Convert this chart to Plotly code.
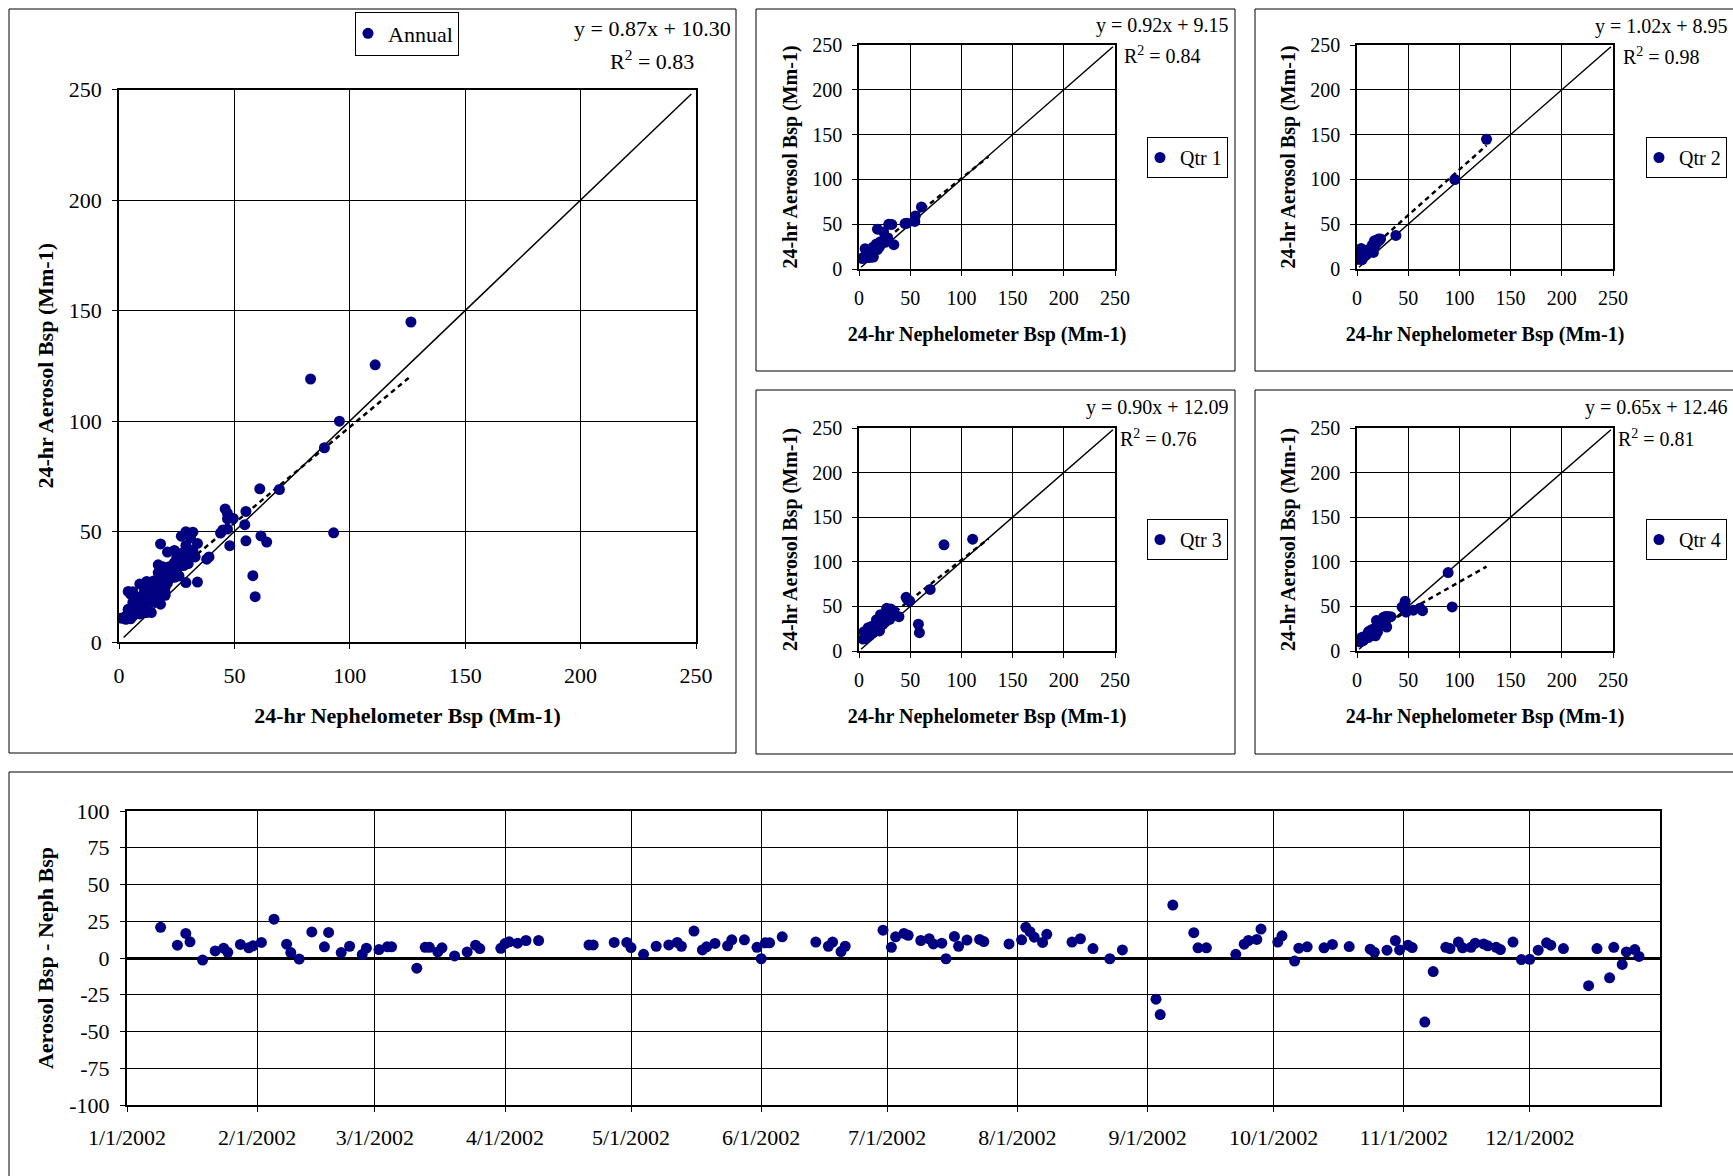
import pandas as pd
import plotly.graph_objects as go

W, H = 1733, 1176
FONT = "Liberation Serif, Times New Roman, serif"
NAVY = "#000080"

# ---------------- data ----------------
DATES = [
    "2002-01-09", "2002-01-13", "2002-01-15", "2002-01-16", "2002-01-19", "2002-01-22", "2002-01-24",
    "2002-01-25", "2002-01-28", "2002-01-30", "2002-01-31", "2002-02-02", "2002-02-05", "2002-02-08",
    "2002-02-09", "2002-02-11", "2002-02-14", "2002-02-17", "2002-02-18", "2002-02-21", "2002-02-23",
    "2002-02-26", "2002-02-27", "2002-03-02", "2002-03-04", "2002-03-05", "2002-03-11", "2002-03-13",
    "2002-03-14", "2002-03-16", "2002-03-17", "2002-03-20", "2002-03-23", "2002-03-25", "2002-03-26",
    "2002-03-31",
    "2002-04-01", "2002-04-02", "2002-04-04", "2002-04-06", "2002-04-09", "2002-04-21", "2002-04-22",
    "2002-04-27", "2002-04-30", "2002-05-01", "2002-05-04", "2002-05-07", "2002-05-10", "2002-05-12",
    "2002-05-13", "2002-05-16", "2002-05-18", "2002-05-19", "2002-05-21", "2002-05-24", "2002-05-25",
    "2002-05-28", "2002-05-31", "2002-06-01", "2002-06-02", "2002-06-03", "2002-06-06", "2002-06-14",
    "2002-06-17", "2002-06-18", "2002-06-20", "2002-06-21", "2002-06-30",
    "2002-07-02", "2002-07-03", "2002-07-05", "2002-07-06", "2002-07-09", "2002-07-11", "2002-07-12",
    "2002-07-14", "2002-07-15", "2002-07-17", "2002-07-18", "2002-07-20", "2002-07-23", "2002-07-24",
    "2002-07-30", "2002-08-02", "2002-08-03", "2002-08-04", "2002-08-05", "2002-08-07", "2002-08-08",
    "2002-08-14", "2002-08-16", "2002-08-19", "2002-08-23", "2002-08-26", "2002-09-03", "2002-09-04",
    "2002-09-07", "2002-09-12", "2002-09-13", "2002-09-15", "2002-09-22", "2002-09-24", "2002-09-25",
    "2002-09-27", "2002-09-28",
    "2002-10-02", "2002-10-03", "2002-10-06", "2002-10-07", "2002-10-09", "2002-10-13", "2002-10-15",
    "2002-10-19", "2002-10-24", "2002-10-25", "2002-10-28", "2002-10-30", "2002-10-31", "2002-11-02",
    "2002-11-03", "2002-11-06", "2002-11-08", "2002-11-11", "2002-11-12", "2002-11-14", "2002-11-15",
    "2002-11-17", "2002-11-18", "2002-11-20", "2002-11-21", "2002-11-23", "2002-11-24", "2002-11-27",
    "2002-11-29", "2002-12-01", "2002-12-03", "2002-12-05", "2002-12-06", "2002-12-09", "2002-12-15",
    "2002-12-17", "2002-12-20", "2002-12-21", "2002-12-23", "2002-12-24", "2002-12-26", "2002-12-27",
]

NEPH_BSP = [
    29, 3, 6, 17, 54.5, 20, 22, 26, 10, 8, 61, 14, 18, 21, 9, 14, 32, 16, 24, 18, 7, 11, 13,
    45, 23, 5, 34, 19, 25, 55, 10, 12, 47, 4, 15, 28,
    1, 8, 12, 6, 15, 10, 13, 4, 20, 9, 16, 14, 7, 23, 11, 126.5, 5, 17, 19, 3, 18, 21, 12,
    38, 16, 22, 17, 8, 13, 10, 95.5, 6, 4,
    10, 111, 5, 12, 24, 18, 8, 26, 39, 29, 6, 22, 15, 47, 32, 13, 27, 17, 46, 34, 31, 19, 25,
    49.5, 69.5, 30, 58, 59, 83, 9, 14, 23, 20, 4, 11, 28, 21,
    23, 19, 29, 8, 12, 5, 15, 20, 10, 14, 44, 26, 33, 47, 17, 93, 55, 3, 7, 28, 13, 22, 11, 6,
    16, 9, 21, 4, 89, 18, 24, 12, 30, 19, 64, 8, 61.5, 14, 48, 11, 6, 20,
]

AEROSOL_BSP = [
    49.9, 11.7, 22.7, 28.0, 53.1, 24.8, 28.7, 29.9, 19.2, 14.9, 69.3, 24.6, 44.4, 30.4, 12.7, 13.3,
    49.7, 23.6, 41.4, 21.7, 15.0, 13.3, 19.7, 50.7, 30.6, 12.6, 27.1, 26.3, 32.3, 59.1, 16.9, 13.4,
    51.1, 12.7, 21.4, 34.6,
    10.8, 19.0, 22.1, 17.9, 26.9, 18.9, 21.9, 14.6, 30.6, 16.1, 18.5, 22.0, 15.9, 33.6, 19.0, 144.8,
    10.5, 24.6, 28.9, 11.3, 30.4, 33.4, 19.3, 37.5, 26.3, 32.3, 31.4, 18.8, 21.0, 20.8, 99.9, 14.0,
    22.9,
    17.3, 125.4, 21.7, 27.4, 35.9, 31.1, 17.6, 36.1, 38.5, 43.7, 14.0, 34.2, 27.6, 58.2, 41.6, 25.4,
    47.9, 34.9, 60.2, 44.6, 47.1, 29.8, 38.1, 55.9, 69.0, 35.5, 30.0, 20.5, 119.0, 26.2, 20.9, 29.9,
    22.5, 13.4, 22.9, 40.6, 40.7,
    33.8, 34.1, 26.9, 14.7, 19.6, 11.9, 24.2, 27.8, 16.0, 17.9, 49.3, 37.9, 38.5, 55.7, 24.1, 49.4,
    45.8, 10.3, 13.4, 38.8, 19.9, 29.3, 21.1, 15.6, 24.3, 16.3, 26.7, 14.8, 87.9, 17.1, 29.3, 22.3,
    38.7, 25.4, 45.2, 14.4, 48.0, 21.3, 43.6, 15.1, 11.7, 21.1,
]

PANELS = ["Annual", "Qtr 1", "Qtr 2", "Qtr 3", "Qtr 4"]
TREND_SLOPE = [0.87, 0.92, 1.02, 0.90, 0.65]
TREND_INTERCEPT = [10.30, 9.15, 8.95, 12.09, 12.46]
TREND_R2 = [0.83, 0.84, 0.98, 0.76, 0.81]
ONE_TO_ONE = [2, 248]

SCATTER_TICKS = [0, 50, 100, 150, 200, 250]
DIFF_TICKS = [-100, -75, -50, -25, 0, 25, 50, 75, 100]
MONTH_TICKS = ["2002-01-01", "2002-02-01", "2002-03-01", "2002-04-01", "2002-05-01", "2002-06-01",
               "2002-07-01", "2002-08-01", "2002-09-01", "2002-10-01", "2002-11-01", "2002-12-01"]
MONTH_LABELS = ["1/1/2002", "2/1/2002", "3/1/2002", "4/1/2002", "5/1/2002", "6/1/2002",
                "7/1/2002", "8/1/2002", "9/1/2002", "10/1/2002", "11/1/2002", "12/1/2002"]
DATE_RANGE = ["2002-01-01", "2003-01-01"]

X_TITLE = "24-hr Nephelometer Bsp (Mm-1)"
Y_TITLE = "24-hr Aerosol Bsp (Mm-1)"
TS_Y_TITLE = "Aerosol Bsp - Neph Bsp"

df = pd.DataFrame({"date": pd.to_datetime(DATES), "neph": NEPH_BSP, "aer": AEROSOL_BSP})
df["diff"] = df["aer"] - df["neph"]
df["panel"] = "Qtr " + df["date"].dt.quarter.astype(str)

# ---------------- layout geometry (pixels) ----------------
def px_x(a, b):
    return [a / W, b / W]

def px_y(top, bottom):
    return [1 - bottom / H, 1 - top / H]

# leg = (right edge, vertical centre) of the legend box
GEOM = {
    "Annual": dict(ax="", x=(119, 696), y=(89.5, 642), fs=22, legend="legend",
                   leg=(459, 33.5), eq=(733, 28), r2=(696, 60), box=(9, 736, 9, 753),
                   tick_so=8, title_so=20),
    "Qtr 1": dict(ax="2", x=(859, 1115), y=(45, 269), fs=20, legend="legend2",
                  leg=(1228, 157.5), eq=(1231, 26), r2=(1203, 55), box=(756, 1235, 9, 371),
                  tick_so=5, title_so=19),
    "Qtr 2": dict(ax="3", x=(1357, 1613), y=(45, 269), fs=20, legend="legend3",
                  leg=(1727, 157.5), eq=(1730, 27), r2=(1702, 56), box=(1255, 1760, 9, 371),
                  tick_so=5, title_so=19),
    "Qtr 3": dict(ax="4", x=(859, 1115), y=(428, 651), fs=20, legend="legend4",
                  leg=(1228, 539.5), eq=(1231, 408), r2=(1199, 438), box=(756, 1235, 390, 754),
                  tick_so=5, title_so=19),
    "Qtr 4": dict(ax="5", x=(1357, 1613), y=(428, 651), fs=20, legend="legend5",
                  leg=(1727, 539.5), eq=(1730, 408), r2=(1697, 438), box=(1255, 1760, 390, 754),
                  tick_so=5, title_so=19),
}
TS_GEOM = dict(ax="6", x=(127, 1660), y=(811, 1105), fs=22, box=(9, 1760, 772, 1200))

MARKER = dict(color=NAVY, size=11)

fig = go.Figure()
layout = dict(
    width=W, height=H, autosize=False,
    margin=dict(l=0, r=0, t=0, b=0, pad=0, autoexpand=False),
    paper_bgcolor="white", plot_bgcolor="white",
    font=dict(family=FONT, color="black"),
    showlegend=True,
)
shapes = []
annotations = []

x_all_min = df["neph"].min()
x_all_max = df["neph"].max()

for i, name in enumerate(PANELS):
    g = GEOM[name]
    ax = g["ax"]
    xref, yref = "x" + ax, "y" + ax
    sub = df if name == "Annual" else df[df["panel"] == name]
    # 1:1 line
    fig.add_trace(go.Scatter(x=ONE_TO_ONE, y=ONE_TO_ONE, mode="lines",
                             line=dict(color="black", width=1.5), showlegend=False,
                             hoverinfo="skip", xaxis=xref, yaxis=yref))
    # trend line (dashed) from the stated regression
    tx = [x_all_min, x_all_max]
    ty = [TREND_SLOPE[i] * v + TREND_INTERCEPT[i] for v in tx]
    fig.add_trace(go.Scatter(x=tx, y=ty, mode="lines",
                             line=dict(color="black", width=2.5, dash="5px,4px"), showlegend=False,
                             hoverinfo="skip", xaxis=xref, yaxis=yref))
    # points
    fig.add_trace(go.Scatter(x=sub["neph"], y=sub["aer"], mode="markers", name=name,
                             marker=MARKER, xaxis=xref, yaxis=yref, legend=g["legend"]))

    fs = g["fs"]
    common = dict(range=[0, 250], tickvals=SCATTER_TICKS, showgrid=True, gridcolor="black",
                  gridwidth=1, showline=True, linecolor="black", linewidth=1.5, mirror=True,
                  ticks="outside", ticklen=5, tickcolor="black", tickwidth=1, zeroline=False,
                  automargin=False, tickfont=dict(family=FONT, size=fs, color="black"))
    layout["xaxis" + ax] = dict(common, domain=px_x(*g["x"]), anchor=yref,
                                ticklabelstandoff=g["tick_so"],
                                title=dict(text=X_TITLE, standoff=g["title_so"],
                                           font=dict(family=FONT, size=fs, color="black",
                                                     weight="bold")))
    layout["yaxis" + ax] = dict(common, domain=px_y(*g["y"]), anchor=xref,
                                ticklabelstandoff=6,
                                title=dict(text=Y_TITLE, standoff=9,
                                           font=dict(family=FONT, size=fs, color="black",
                                                     weight="bold")))
    lx, ly = g["leg"]
    layout[g["legend"]] = dict(x=lx / W, y=1 - ly / H, xanchor="right", yanchor="middle",
                               bgcolor="white", bordercolor="black", borderwidth=1,
                               itemwidth=30, indentation=-8, tracegroupgap=0,
                               font=dict(family=FONT, size=fs, color="black"))
    ex, ey = g["eq"]
    annotations.append(dict(xref="paper", yref="paper", x=ex / W, y=1 - ey / H,
                            xanchor="right", yanchor="middle", showarrow=False,
                            text=f"y = {TREND_SLOPE[i]:.2f}x + {TREND_INTERCEPT[i]:.2f}",
                            font=dict(family=FONT, size=fs, color="black")))
    rx, ry = g["r2"]
    annotations.append(dict(xref="paper", yref="paper", x=rx / W, y=1 - ry / H,
                            xanchor="right", yanchor="middle", showarrow=False,
                            text=f"R<sup>2</sup> = {TREND_R2[i]:.2f}",
                            font=dict(family=FONT, size=fs, color="black")))
    b = g["box"]
    shapes.append(dict(type="rect", xref="paper", yref="paper", x0=b[0] / W, x1=b[1] / W,
                       y0=1 - b[3] / H, y1=1 - b[2] / H, line=dict(color="black", width=1),
                       layer="below"))

# ---------------- time series panel ----------------
ax = TS_GEOM["ax"]
fig.add_trace(go.Scatter(x=df["date"], y=df["diff"], mode="markers", name="Aerosol - Neph",
                         marker=MARKER, showlegend=False,
                         xaxis="x" + ax, yaxis="y" + ax))
fs = TS_GEOM["fs"]
layout["xaxis" + ax] = dict(type="date", range=DATE_RANGE, domain=px_x(*TS_GEOM["x"]),
                            anchor="y" + ax, tickvals=MONTH_TICKS, ticktext=MONTH_LABELS,
                            showgrid=True, gridcolor="black", gridwidth=1, showline=True,
                            linecolor="black", linewidth=2, mirror=True, ticks="outside",
                            ticklen=5, tickcolor="black", ticklabelstandoff=7,
                            automargin=False,
                            tickfont=dict(family=FONT, size=fs, color="black"))
layout["yaxis" + ax] = dict(range=[-100, 100], domain=px_y(*TS_GEOM["y"]), anchor="x" + ax,
                            tickvals=DIFF_TICKS, ticktext=[str(v) for v in DIFF_TICKS],
                            showgrid=True, gridcolor="black", gridwidth=1, showline=True,
                            linecolor="black", linewidth=2, mirror=True, ticks="outside",
                            ticklen=5, tickcolor="black", ticklabelstandoff=6,
                            zeroline=True, zerolinecolor="black", zerolinewidth=3,
                            automargin=False,
                            tickfont=dict(family=FONT, size=fs, color="black"),
                            title=dict(text=TS_Y_TITLE, standoff=10,
                                       font=dict(family=FONT, size=fs, color="black",
                                                 weight="bold")))
b = TS_GEOM["box"]
shapes.append(dict(type="rect", xref="paper", yref="paper", x0=b[0] / W, x1=b[1] / W,
                   y0=1 - b[3] / H, y1=1 - b[2] / H, line=dict(color="black", width=1),
                   layer="below"))

layout["shapes"] = shapes
layout["annotations"] = annotations
fig.update_layout(**layout)
fig.write_html("out.html")
